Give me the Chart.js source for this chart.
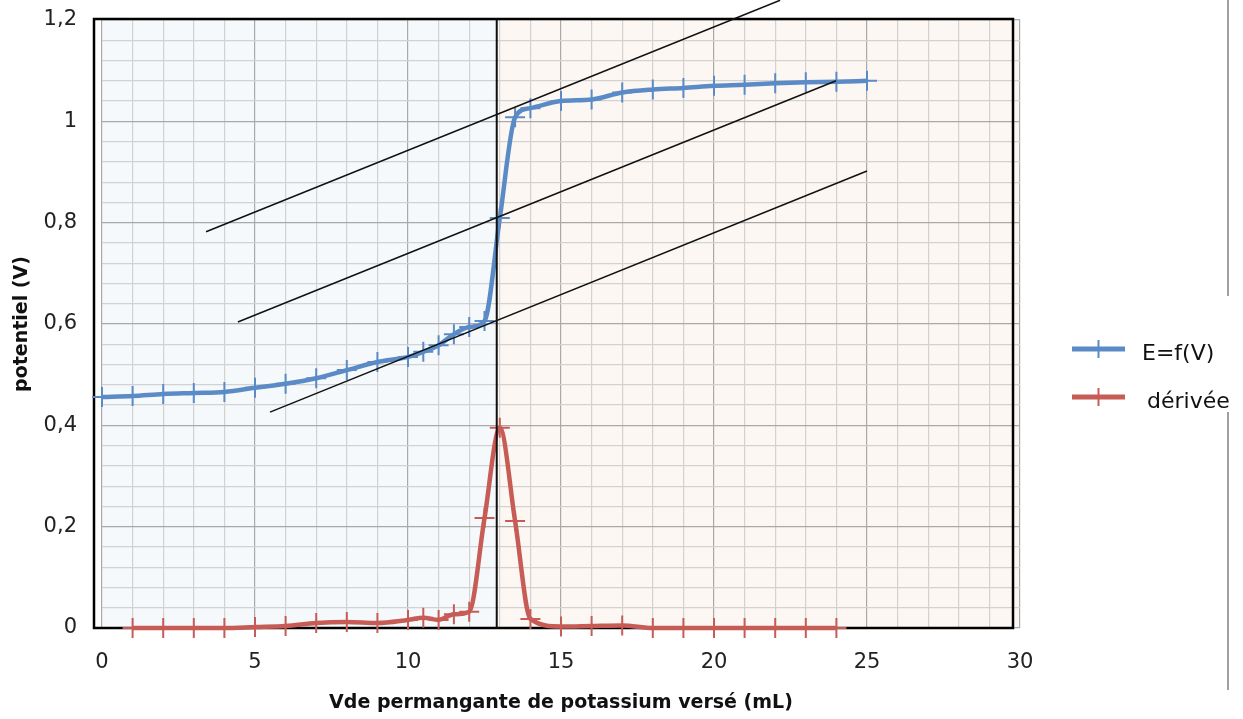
<!DOCTYPE html>
<html lang="fr">
<head>
<meta charset="UTF-8">
<title>Dosage par le permanganate de potassium</title>
<script src="https://cdn.jsdelivr.net/npm/chart.js"></script>
<style>
  body { margin: 0; background: #ffffff; }
  .wrap { position: relative; width: 1243px; height: 719px; }
  .page-edge { position: absolute; left: 1227px; width: 2px; background: #a0a0a0; }
</style>
</head>
<body>
<div class="wrap">
  <canvas id="chart"></canvas>
  <div class="page-edge" style="top:0;height:296px"></div>
  <div class="page-edge" style="top:412px;height:278px"></div>
</div>
<script>
// volume verse (mL) et potentiel mesure (V)
const volumes = [0, 1, 2, 3, 4, 5, 6, 7, 8, 9, 10, 10.5, 11, 11.5, 12, 12.5, 13, 13.5, 14, 15, 16, 17, 18, 19, 20, 21, 22, 23, 24, 25];
const potentiel = [0.456, 0.458, 0.462, 0.464, 0.466, 0.474, 0.482, 0.493, 0.509, 0.525, 0.535, 0.545, 0.558, 0.580, 0.594, 0.606, 0.809, 1.008, 1.026, 1.040, 1.043, 1.057, 1.063, 1.066, 1.070, 1.072, 1.075, 1.077, 1.078, 1.080];

// derivee dE/dV
const volumesDerivee = [1, 2, 3, 4, 5, 6, 7, 8, 9, 10, 10.5, 11, 11.5, 12, 12.5, 13, 13.5, 14, 15, 16, 17, 18, 19, 20, 21, 22, 23, 24];
const derivee = [0, 0, 0, 0, 0.002, 0.004, 0.010, 0.012, 0.010, 0.016, 0.020, 0.016, 0.027, 0.032, 0.217, 0.395, 0.211, 0.018, 0.003, 0.004, 0.005, 0, 0, 0, 0, 0, 0, 0];

// methode des tangentes : trois droites paralleles + volume equivalent
const tangenteHaute = [[3.40, 0.782], [22.16, 1.239]];
const tangenteMilieu = [[4.44, 0.604], [23.99, 1.080]];
const tangenteBasse = [[5.49, 0.426], [25.0, 0.902]];
const vEquivalence = 12.9;

const xLabels = [0, 5, 10, 15, 20, 25, 30];
const yLabels = ['0', '0,2', '0,4', '0,6', '0,8', '1', '1,2'];

const BLEU = '#5b8bc7';
const ROUGE = '#c75c56';

function points(xs, ys) {
  return xs.map((v, i) => ({ x: v, y: ys[i] }));
}
function segment(pts) {
  return pts.map(p => ({ x: p[0], y: p[1] }));
}

function estMajeur(v, pas) {
  return Math.abs(v / pas - Math.round(v / pas)) < 1e-6;
}

function droite(pts, largeur) {
  return {
    data: segment(pts),
    borderColor: '#111111',
    borderWidth: largeur,
    pointRadius: 0,
    tension: 0,
    clip: false,
    order: 0
  };
}

const fondPlugin = {
  id: 'fond',
  beforeDraw(chart) {
    const { ctx, chartArea: a, scales: { x } } = chart;
    const xe = x.getPixelForValue(vEquivalence);
    ctx.save();
    ctx.fillStyle = '#f5f9fb';
    ctx.fillRect(a.left, a.top, xe - a.left, a.bottom - a.top);
    ctx.fillStyle = '#fcf7f2';
    ctx.fillRect(xe, a.top, a.right - xe, a.bottom - a.top);
    ctx.restore();
  },
  beforeDatasetsDraw(chart) {
    const { ctx, chartArea: a } = chart;
    ctx.save();
    ctx.strokeStyle = '#000000';
    ctx.lineWidth = 2.5;
    ctx.strokeRect(a.left - 8, a.top - 1, a.right - a.left + 1, a.bottom - a.top + 1);
    ctx.restore();
  }
};

// legende a droite : trait epais + croix, comme dans le tableur
const legendePlugin = {
  id: 'legende',
  afterDraw(chart) {
    const { ctx, chartArea: a } = chart;
    const mid = (a.top + a.bottom) / 2;
    chart.data.datasets.filter(d => d.label).forEach((d, i) => {
      const y = mid + 25 + i * 48;
      const x0 = a.right + 52, x1 = a.right + 105;
      ctx.save();
      ctx.strokeStyle = d.borderColor;
      ctx.lineWidth = 5;
      ctx.beginPath();
      ctx.moveTo(x0, y);
      ctx.lineTo(x1, y);
      ctx.stroke();
      ctx.lineWidth = 2;
      ctx.beginPath();
      ctx.moveTo((x0 + x1) / 2, y - 9);
      ctx.lineTo((x0 + x1) / 2, y + 9);
      ctx.stroke();
      ctx.fillStyle = '#111111';
      ctx.font = '22px "DejaVu Sans"';
      ctx.textBaseline = 'middle';
      ctx.fillText(d.label, x1 + 17 + i * 5, y + 5);
      ctx.restore();
    });
  }
};

new Chart(document.getElementById('chart'), {
  type: 'line',
  data: {
    datasets: [
      {
        label: 'E=f(V)',
        data: points(volumes, potentiel),
        borderColor: BLEU,
        borderWidth: 4.5,
        pointStyle: 'cross',
        pointRadius: 10,
        pointBorderWidth: 2,
        pointBorderColor: BLEU,
        cubicInterpolationMode: 'monotone',
        clip: false,
        order: 1
      },
      {
        label: 'dérivée',
        data: points(volumesDerivee, derivee),
        borderColor: ROUGE,
        borderWidth: 4.5,
        pointStyle: 'cross',
        pointRadius: 10,
        pointBorderWidth: 2,
        pointBorderColor: ROUGE,
        cubicInterpolationMode: 'monotone',
        clip: false,
        order: 1
      },
      droite(tangenteHaute, 1.5),
      droite(tangenteMilieu, 1.5),
      droite(tangenteBasse, 1.5),
      droite([[vEquivalence, 0], [vEquivalence, 1.2]], 2)
    ]
  },
  options: {
    responsive: true,
    maintainAspectRatio: false,
    animation: false,
    events: [],
    layout: { autoPadding: false, padding: { left: 0, top: 20, right: 223, bottom: 0 } },
    plugins: {
      legend: { display: false },
      tooltip: { enabled: false }
    },
    scales: {
      x: {
        type: 'linear',
        min: 0,
        max: 30,
        afterFit(scale) { scale.height = 91; },
        border: { display: false },
        grid: {
          drawTicks: false,
          lineWidth: 1.2,
          color: c => estMajeur(c.tick.value, 5) ? '#a9a9a9' : '#d2d2d2'
        },
        ticks: {
          stepSize: 1,
          autoSkip: false,
          maxTicksLimit: 100,
          maxRotation: 0,
          padding: 22,
          color: '#222222',
          font: { family: '"DejaVu Sans"', size: 21 },
          callback: v => {
            const i = xLabels.indexOf(v);
            return i >= 0 ? String(xLabels[i]) : '';
          }
        },
        title: {
          display: true,
          text: 'Vde permangante de potassium versé (mL)',
          color: '#111111',
          font: { family: '"DejaVu Sans"', size: 19, weight: 'bold' },
          padding: { bottom: 5 }
        }
      },
      y: {
        type: 'linear',
        min: 0,
        max: 1.2,
        afterFit(scale) { scale.width = 102; },
        border: { display: false },
        grid: {
          drawTicks: true,
          tickLength: 25,
          tickColor: 'rgba(0,0,0,0)',
          lineWidth: 1.2,
          color: c => estMajeur(c.tick.value, 0.2) ? '#a9a9a9' : '#d2d2d2'
        },
        ticks: {
          stepSize: 0.04,
          autoSkip: false,
          maxTicksLimit: 100,
          padding: 0,
          color: '#222222',
          font: { family: '"DejaVu Sans"', size: 21 },
          callback: v => estMajeur(v, 0.2) ? yLabels[Math.round(v / 0.2)] : ''
        },
        title: {
          display: true,
          text: 'potentiel (V)',
          color: '#111111',
          font: { family: '"DejaVu Sans"', size: 19, weight: 'bold' },
          padding: { top: 11 }
        }
      }
    }
  },
  plugins: [fondPlugin, legendePlugin]
});
</script>
</body>
</html>
